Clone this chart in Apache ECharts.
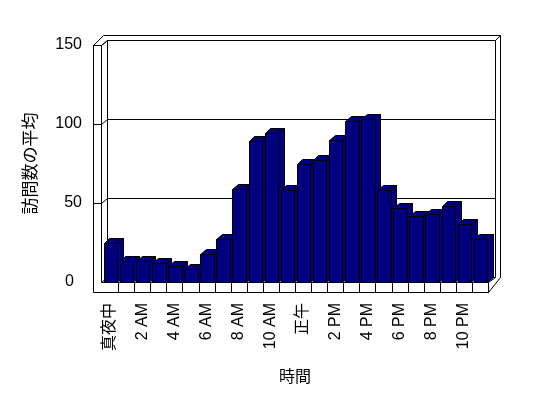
<!DOCTYPE html>
<html>
<head>
<meta charset="utf-8">
<script src="https://cdn.jsdelivr.net/npm/echarts@6/dist/echarts.min.js"></script>
<style>html,body{margin:0;padding:0;background:#fff}#c{width:548px;height:398px}</style>
</head>
<body>
<div id="c"></div>
<script>
const categories = ['真夜中','1 AM','2 AM','3 AM','4 AM','5 AM','6 AM','7 AM','8 AM','9 AM','10 AM','11 AM','正午','1 PM','2 PM','3 PM','4 PM','5 PM','6 PM','7 PM','8 PM','9 PM','10 PM','11 PM'];
const visits = [25,13,13,12,10,8,18,27,59,89,94,58,75,77,90,102,103,58,47,42,43,48,37,27];
const yTicks = [0,50,100,150];
const yTitle = '訪問数の平均';
const xTitle = '時間';

const FONT = "'Liberation Sans', 'Noto Sans CJK JP', sans-serif";
const BAR = '#000080';
const r = v => Math.round(v) + 0.5;

const chart = echarts.init(document.getElementById('c'), null, {renderer: 'canvas'});

function line(pts, z) {
  return {type: 'polyline', shape: {points: pts.map(p => [r(p[0]), r(p[1])])}, style: {stroke: '#000', lineWidth: 1, fill: null}, z2: z || 1};
}
function poly(pts, fill, z) {
  return {type: 'polygon', shape: {points: pts.map(p => [r(p[0]), r(p[1])])}, style: {stroke: '#000', lineWidth: 1, fill: fill}, z2: z || 1};
}

function renderFrame(params, api) {
  const cs = params.coordSys;
  const L = cs.x, R = cs.x + cs.width, T = cs.y, B = cs.y + cs.height;
  const oL = L - 9, iL = L - 1, fB = B + 9.5;
  const dx = 6.3, dy = -5.5;
  const oT = T - 10.5, oR = R + 12;
  const ch = [];
  ch.push(poly([[oL, fB], [oL, T], [oL + 10, oT], [oR, oT], [oR, B - 5], [R, fB]], '#fff', 1));
  ch.push(poly([[iL + dx, T + dy], [R + 7, T + dy], [R + 7, B + dy], [iL + dx, B + dy]], '#fff', 2));
  ch.push(line([[oL, T], [iL, T], [iL + dx, T + dy]], 3));
  ch.push(line([[R + 7, T + dy], [oR, oT]], 3));
  ch.push(line([[iL, T], [iL, B], [R, B], [R, fB]], 3));
  ch.push(line([[iL, B], [iL + dx, B + dy]], 3));
  ch.push(line([[R, B], [R + 7, B + dy]], 3));
  const n = categories.length;
  const w = cs.width / n;
  for (let k = 1; k <= n; k++) {
    const x = L + k * w;
    ch.push(line([[x, B], [x, fB]], 3));
  }
  yTicks.forEach(v => {
    if (v === 0) return;
    const y = api.coord([0, v])[1];
    ch.push(line([[oL, y], [iL, y], [iL + dx, y + dy], [R + 7, y + dy]], 3));
  });
  return {type: 'group', children: ch};
}

function renderBar(params, api) {
  const i = api.value(0), v = api.value(1);
  const c = api.coord([i, v]);
  const c0 = api.coord([i, 0]);
  const w = api.size([1, 0])[0];
  const xl = c[0] - w / 2 + 1.8, xr = xl + 13.5;
  const yt = c[1], yb = c0[1];
  const dx = 5.6, dy = -5;
  return {
    type: 'group',
    children: [
      poly([[xr, yt], [xr + dx, yt + dy], [xr + dx, yb + dy], [xr, yb]], BAR, 1),
      poly([[xl, yt], [xr, yt], [xr + dx, yt + dy], [xl + dx, yt + dy]], BAR, 2),
      poly([[xl, yt], [xr, yt], [xr, yb], [xl, yb]], BAR, 3)
    ]
  };
}

chart.setOption({
  animation: false,
  backgroundColor: '#fff',
  grid: {left: 102, right: 60, top: 45, bottom: 116},
  xAxis: {
    type: 'category',
    data: categories,
    name: xTitle,
    nameLocation: 'middle',
    nameGap: 88,
    nameTextStyle: {fontSize: 16, color: '#000', fontFamily: FONT},
    axisLine: {show: false},
    axisTick: {show: false},
    splitLine: {show: false},
    axisLabel: {rotate: 90, interval: 1, margin: 21, fontSize: 16, color: '#000', fontFamily: FONT}
  },
  yAxis: {
    type: 'value',
    min: 0, max: 150, interval: 50,
    name: yTitle,
    nameLocation: 'middle',
    nameRotate: 90,
    nameGap: 62,
    nameTextStyle: {fontSize: 17, color: '#000', fontFamily: FONT},
    axisLine: {show: false},
    axisTick: {show: false},
    splitLine: {show: false},
    axisLabel: {
      margin: 20, fontSize: 16, color: '#000', fontFamily: FONT,
      formatter: v => v === 0 ? '{z|0}' : String(v),
      rich: {z: {fontSize: 16, color: '#000', fontFamily: FONT, padding: [0, 8, 0, 0]}}
    }
  },
  series: [
    {type: 'custom', renderItem: renderFrame, data: [[0, 0]], z: 1, silent: true},
    {type: 'custom', renderItem: renderBar, data: visits.map((v, i) => [i, v]), z: 2, silent: true}
  ]
});
</script>
</body>
</html>
